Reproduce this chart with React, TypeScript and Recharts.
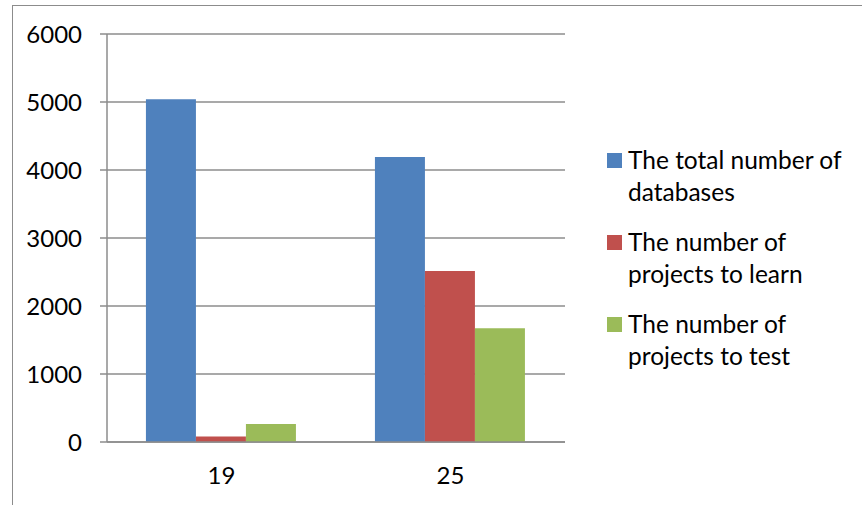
import { BarChart, Bar, XAxis, YAxis, CartesianGrid } from "recharts";

const categories = ["19", "25"];
const totalDatabases = [5040, 4190];
const projectsToLearn = [80, 2515];
const projectsToTest = [265, 1672];

const seriesKeys = ["total", "learn", "test"];
const seriesNames = [
  "The total number of databases",
  "The number of projects to learn",
  "The number of projects to test",
];
const seriesColors = ["#4F81BD", "#C0504D", "#9BBB59"];

const yTicks = [0, 1000, 2000, 3000, 4000, 5000, 6000];
const categoryBounds = [0, 1, 2];

const data = categories.map((name, i) => ({
  name,
  total: totalDatabases[i],
  learn: projectsToLearn[i],
  test: projectsToTest[i],
}));

const FONT = "Lato, 'Open Sans', sans-serif";
const GRAY = "#8c8c8c";

export default function App() {
  return (
    <div
      style={{
        position: "absolute",
        left: 0,
        top: 0,
        width: 862,
        height: 505,
        overflow: "hidden",
        background: "#fff",
      }}
    >
      <div
        style={{
          position: "absolute",
          left: 12,
          top: 5,
          width: 900,
          height: 600,
          borderTop: `1px solid ${GRAY}`,
          borderLeft: `1px solid ${GRAY}`,
        }}
      />
      <div style={{ position: "absolute", left: 0, top: 0 }}>
        <BarChart
          width={862}
          height={505}
          data={data}
          margin={{ top: 34, right: 297, bottom: 23, left: 0 }}
          barCategoryGap="17%"
          barGap={0}
        >
          <CartesianGrid
            xAxisId="cat"
            vertical={false}
            stroke={GRAY}
            strokeWidth={1.5}
          />
          <XAxis
            xAxisId="bounds"
            type="number"
            domain={[0, categoryBounds.length - 1]}
            ticks={categoryBounds}
            allowDataOverflow
            tick={false}
            tickSize={8}
            tickLine={{ stroke: GRAY, strokeWidth: 1.5 }}
            axisLine={false}
            height={0}
          />
          <XAxis
            xAxisId="cat"
            dataKey="name"
            tickLine={false}
            tickSize={0}
            tickMargin={25}
            axisLine={{ stroke: GRAY, strokeWidth: 1.5 }}
            tick={{ fill: "#000", fontSize: 24, fontFamily: FONT }}
            height={40}
          />
          <YAxis
            domain={[0, 6000]}
            ticks={yTicks}
            width={107}
            tickSize={7}
            tickMargin={18}
            tickLine={{ stroke: GRAY, strokeWidth: 1.5 }}
            axisLine={{ stroke: GRAY, strokeWidth: 1.5 }}
            tick={{ fill: "#000", fontSize: 24, fontFamily: FONT }}
          />
          {seriesKeys.map((k, i) => (
            <Bar
              key={k}
              xAxisId="cat"
              dataKey={k}
              name={seriesNames[i]}
              fill={seriesColors[i]}
              isAnimationActive={false}
            />
          ))}
        </BarChart>
      </div>
      <div
        style={{
          position: "absolute",
          left: 607,
          top: 144,
          fontFamily: FONT,
          fontSize: 24.5,
          color: "#000",
          lineHeight: "32px",
        }}
      >
        {seriesNames.map((n, i) => (
          <div key={n} style={{ display: "flex", alignItems: "flex-start", marginBottom: 18 }}>
            <div
              style={{
                width: 15,
                height: 15,
                background: seriesColors[i],
                marginTop: 9,
                marginRight: 6,
                flex: "none",
              }}
            />
            <div style={{ width: 228 }}>{n}</div>
          </div>
        ))}
      </div>
    </div>
  );
}
